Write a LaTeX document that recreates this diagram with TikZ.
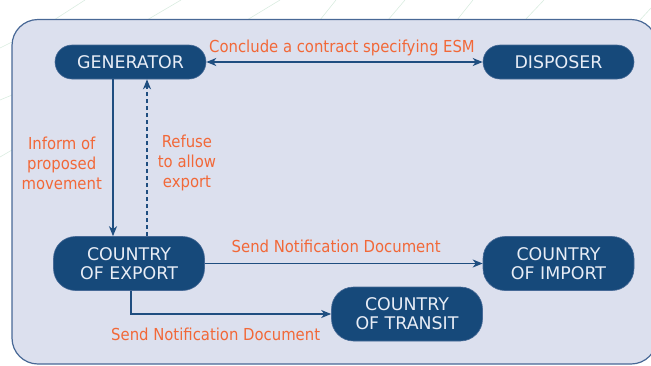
\documentclass[tikz,border=0pt]{standalone}
\usepackage{fontspec}
\newfontfamily\dv{DejaVu Sans Condensed}
\newfontfamily\dvn{DejaVu Sans}
\usetikzlibrary{arrows.meta}
\definecolor{panelfill}{RGB}{220,224,238}
\definecolor{paneledge}{RGB}{72,104,150}
\definecolor{nodefill}{RGB}{22,73,122}
\definecolor{nodeedge}{RGB}{70,105,150}
\definecolor{nodetext}{RGB}{232,237,246}
\definecolor{orangetxt}{RGB}{242,104,56}
\definecolor{lineblue}{RGB}{31,78,128}
\definecolor{raygreen}{RGB}{218,236,224}
\tikzset{
  box/.style={draw=nodeedge, line width=0.6pt, fill=nodefill, text=nodetext,
    align=center, inner sep=0pt, font=\dvn\fontsize{17.4}{19}\selectfont},
  smallbox/.style={box, minimum width=151pt, minimum height=34pt, rounded corners=17pt},
  bigbox/.style={box, minimum width=151pt, minimum height=54pt, rounded corners=22pt},
  lbl/.style={text=orangetxt, inner sep=0pt, font=\dv\fontsize{16.5}{20}\selectfont},
  conn/.style={draw=lineblue, line width=1.4pt,
    arrows={-Stealth[length=10pt,width=8pt,inset=3pt]}},
  ray/.style={draw=raygreen, line width=0.6pt}
}
\begin{document}
\begin{tikzpicture}[x=1pt,y=-1pt]
\useasboundingbox (0,0) rectangle (651,365);
% faint background rays
\draw[ray] (54,20) -- (85,0);
\draw[ray] (147,20) -- (181,0);
\draw[ray] (247,20) -- (280,0);
\draw[ray] (320,20) -- (336,0);
\draw[ray] (388,20) -- (405,0);
\draw[ray] (457,20) -- (473,0);
\draw[ray] (525,20) -- (544,0);
\draw[ray] (640,20) -- (651,8);
\draw[ray] (0,48) -- (12,42);
\draw[ray] (0,100) -- (12,95);
\draw[ray] (0,157) -- (12,150);
% panel
\draw[draw=paneledge, fill=panelfill, line width=1.2pt, rounded corners=26pt]
  (12,19.5) rectangle (657,364);
% nodes
\node[smallbox] (gen) at (130.5,62) {GENERATOR};
\node[smallbox] (disp) at (558.5,62) {DISPOSER};
\node[bigbox] (exp) at (129,263.5) {COUNTRY\\OF EXPORT};
\node[bigbox] (imp) at (558.5,263.5) {COUNTRY\\OF IMPORT};
\node[bigbox] (tran) at (407,314) {COUNTRY\\OF TRANSIT};
% helper coordinates
\coordinate (xa) at (113,0);
\coordinate (xb) at (147,0);
\coordinate (xc) at (131,0);
% connectors
\draw[conn, arrows={Stealth[length=10pt,width=8pt,inset=3pt]-Stealth[length=10pt,width=8pt,inset=3pt]}] (gen) -- (disp);
\draw[conn] (gen.south -| xa) -- (exp.north -| xa);
\draw[conn, dash pattern=on 4pt off 3pt] (exp.north -| xb) -- (gen.south -| xb);
\draw[conn] (exp) -- (imp);
\draw[conn] (exp.south -| xc) |- (tran.west);
% labels
\node[lbl, anchor=base] (lconclude) at (342,52.5) {Conclude a contract specifying ESM};
\node[lbl, anchor=base west] (lsend1) at (231.5,252) {Send Notification Document};
\node[lbl, anchor=base west] (lsend2) at (111,340) {Send Notification Document};
\node[lbl, align=center] (linform) at (61.7,163) {Inform of\\proposed\\movement};
\node[lbl, align=center] (lrefuse) at (187,163) {Refuse\\to allow\\export};
\end{tikzpicture}
\end{document}
